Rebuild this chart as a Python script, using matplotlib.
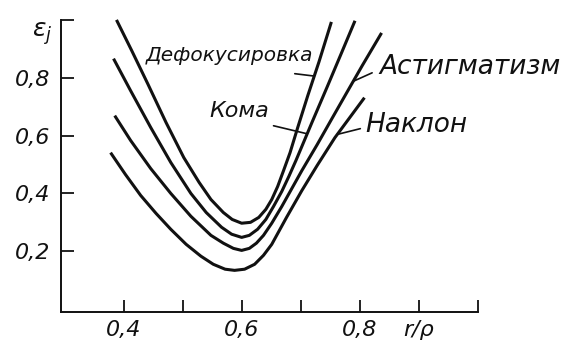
import numpy as np
import matplotlib.pyplot as plt

# values (r/rho, eps_j)
defocus_x = [0.388, 0.414, 0.441, 0.472, 0.502, 0.528, 0.548, 0.569, 0.584, 0.600, 0.615,
             0.629, 0.641, 0.651, 0.661, 0.671, 0.682, 0.695, 0.712, 0.731, 0.752]
defocus_y = [1.000, 0.893, 0.779, 0.645, 0.524, 0.438, 0.379, 0.334, 0.310, 0.297, 0.300,
             0.317, 0.345, 0.379, 0.424, 0.479, 0.541, 0.628, 0.738, 0.855, 0.993]

coma_x = [0.383, 0.412, 0.446, 0.480, 0.514, 0.540, 0.566, 0.583, 0.600, 0.613,
          0.627, 0.641, 0.654, 0.668, 0.680, 0.692, 0.719, 0.745, 0.770, 0.792]
coma_y = [0.866, 0.755, 0.628, 0.507, 0.400, 0.334, 0.283, 0.259, 0.248, 0.255,
          0.276, 0.310, 0.355, 0.407, 0.459, 0.514, 0.645, 0.769, 0.890, 0.997]

astig_x = [0.385, 0.412, 0.446, 0.480, 0.514, 0.548, 0.569, 0.586, 0.600, 0.613, 0.625,
           0.637, 0.651, 0.668, 0.685, 0.702, 0.728, 0.753, 0.779, 0.804, 0.837]
astig_y = [0.669, 0.583, 0.486, 0.400, 0.321, 0.255, 0.228, 0.210, 0.203, 0.210, 0.228,
           0.255, 0.297, 0.355, 0.417, 0.479, 0.569, 0.659, 0.752, 0.841, 0.955]

tilt_x = [0.378, 0.403, 0.429, 0.455, 0.480, 0.506, 0.531, 0.552, 0.572, 0.588,
          0.605, 0.622, 0.637, 0.651, 0.676, 0.702, 0.728, 0.758, 0.808]
tilt_y = [0.541, 0.466, 0.393, 0.331, 0.276, 0.224, 0.183, 0.155, 0.138, 0.134,
          0.138, 0.155, 0.186, 0.224, 0.317, 0.410, 0.497, 0.593, 0.731]

x_ticks = [0.4, 0.5, 0.6, 0.7, 0.8, 0.9, 1.0]
x_labels = ['0,4', '', '0,6', '', '0,8', 'r/ρ', '']
y_ticks = [0.2, 0.4, 0.6, 0.8, 1.0]
y_labels = ['0,2', '0,4', '0,6', '0,8', '']

ink = '#111111'


def right_arm(xs, ys, x):
    i = int(np.argmin(ys))
    return x, np.interp(x, xs[i:], ys[i:])


fig = plt.figure(figsize=(5.61, 3.49), dpi=100)
ax = fig.add_axes([0.1087, 0.106, 0.743, 0.837])

for xs, ys in [(defocus_x, defocus_y), (coma_x, coma_y), (astig_x, astig_y), (tilt_x, tilt_y)]:
    ax.plot(xs, ys, color=ink, lw=2.2, solid_joinstyle='round', solid_capstyle='butt', clip_on=False)

ax.set_xlim(0.294, 1.0)
ax.set_ylim(-0.01, 1.0)
ax.spines['top'].set_visible(False)
ax.spines['right'].set_visible(False)
for s in ['left', 'bottom']:
    ax.spines[s].set_linewidth(1.4)
    ax.spines[s].set_color(ink)

ax.set_xticks(x_ticks)
ax.set_xticklabels(x_labels, fontsize=16, style='italic')
ax.set_yticks(y_ticks)
ax.set_yticklabels(y_labels, fontsize=16, style='italic')
ax.tick_params(direction='in', length=9, width=1.3, color=ink, labelcolor=ink)
ax.tick_params(axis='x', pad=6)
ax.tick_params(axis='y', pad=8)

fig.text(0.075, 0.905, r'$\varepsilon_j$', fontsize=18, ha='center', va='center', color=ink)

# labels with leader lines
lead = dict(arrowstyle='-', color=ink, lw=1.2, shrinkA=0, shrinkB=0)

ax.text(0.579, 0.876, 'Дефокусировка', fontsize=14.5, style='italic', ha='center', va='center', color=ink)
ax.annotate('', xy=right_arm(defocus_x, defocus_y, 0.723), xytext=(0.69, 0.814), arrowprops=lead)

ax.text(0.596, 0.686, 'Кома', fontsize=16, style='italic', ha='center', va='center', color=ink)
ax.annotate('', xy=right_arm(coma_x, coma_y, 0.711), xytext=(0.654, 0.634), arrowprops=lead)

ax.text(0.833, 0.838, 'Астигматизм', fontsize=19, style='italic', ha='left', va='center', color=ink)
ax.annotate('', xy=right_arm(astig_x, astig_y, 0.789), xytext=(0.821, 0.817), arrowprops=lead)

ax.text(0.81, 0.638, 'Наклон', fontsize=19, style='italic', ha='left', va='center', color=ink)
ax.annotate('', xy=right_arm(tilt_x, tilt_y, 0.762), xytext=(0.801, 0.624), arrowprops=lead)

fig.savefig('out.png', dpi=100)
